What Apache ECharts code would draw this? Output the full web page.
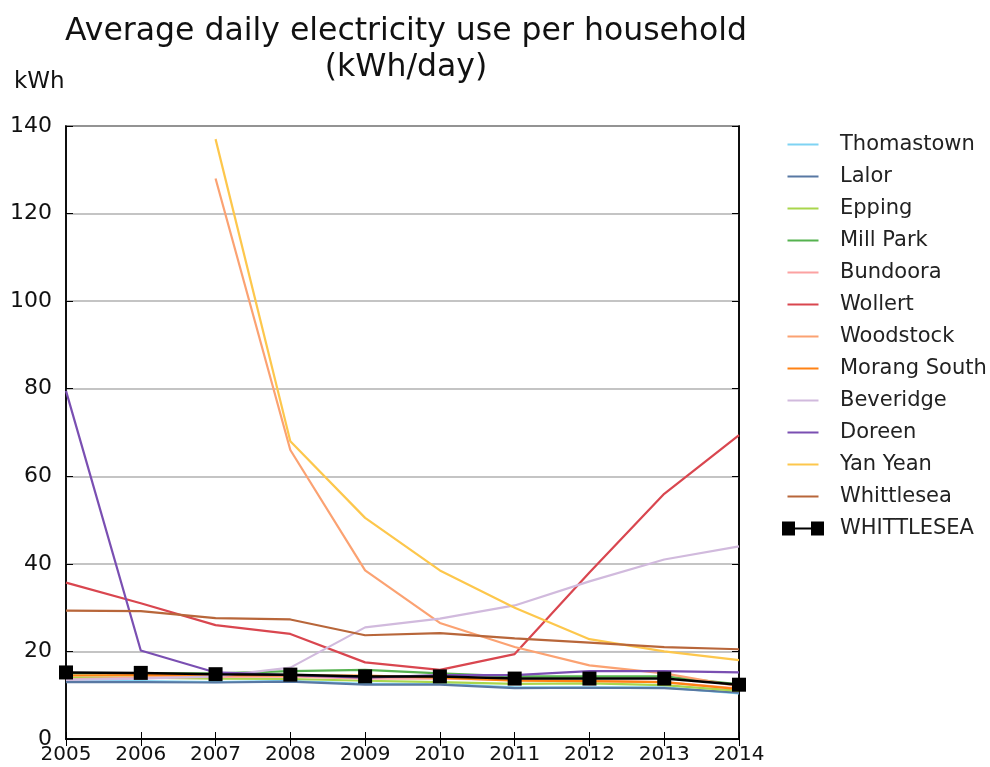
<!DOCTYPE html>
<html>
<head>
<meta charset="utf-8">
<script src="https://cdn.jsdelivr.net/npm/echarts@6/dist/echarts.min.js"></script>
<style>
  html, body { margin: 0; padding: 0; background: #fff; }
  #main { width: 990px; height: 767px; }
</style>
</head>
<body>
<div id="main"></div>
<script>
// years on x axis
var years = ['2005', '2006', '2007', '2008', '2009', '2010', '2011', '2012', '2013', '2014'];

// kWh/day per suburb
var thomastown  = [13.3, 13.2, 13.0, 13.3, 12.6, 12.6, 11.8, 11.8, 11.8, 10.4];
var lalor       = [13.0, 13.0, 12.9, 13.1, 12.4, 12.4, 11.6, 11.7, 11.6, 10.6];
var epping      = [14.0, 14.0, 13.8, 13.7, 13.3, 13.0, 12.6, 12.7, 12.3, 11.0];
var millPark    = [15.0, 15.0, 15.0, 15.5, 15.8, 15.0, 14.3, 14.3, 14.3, 12.5];
var bundoora    = [13.6, 14.0, 14.2, 14.3, 13.8, 13.8, 13.5, 13.3, 13.0, 11.5];
var wollert     = [35.7, 31.0, 26.0, 24.0, 17.5, 15.8, 19.4, 38.0, 56.0, 69.4];
var woodstock   = [null, null, 128.0, 66.0, 38.5, 26.5, 21.0, 16.8, 15.0, 12.0];
var morangSouth = [14.5, 14.6, 14.6, 14.5, 14.5, 14.0, 13.3, 13.2, 13.0, 11.4];
var beveridge   = [13.5, 13.8, 14.3, 16.3, 25.5, 27.5, 30.5, 36.0, 41.0, 44.0];
var doreen      = [79.5, 20.2, 15.2, 14.6, 14.0, 14.6, 14.6, 15.5, 15.5, 15.2];
var yanYean     = [null, null, 137.0, 68.0, 50.5, 38.5, 30.0, 22.8, 20.0, 18.0];
var whittlesea  = [29.3, 29.2, 27.6, 27.3, 23.7, 24.2, 23.0, 22.0, 21.0, 20.5];
var WHITTLESEA  = [15.2, 15.1, 14.8, 14.7, 14.3, 14.3, 13.8, 13.8, 13.8, 12.4];

var yTicks = [0, 20, 40, 60, 80, 100, 120, 140];

var seriesDefs = [
    ['Thomastown', thomastown, '#7fd3f3'],
    ['Lalor', lalor, '#5878a3'],
    ['Epping', epping, '#a9d64c'],
    ['Mill Park', millPark, '#55b24f'],
    ['Bundoora', bundoora, '#fca2a2'],
    ['Wollert', wollert, '#d9464f'],
    ['Woodstock', woodstock, '#fba272'],
    ['Morang South', morangSouth, '#ff8214'],
    ['Beveridge', beveridge, '#d1badd'],
    ['Doreen', doreen, '#7a4fb2'],
    ['Yan Yean', yanYean, '#fdc74c'],
    ['Whittlesea', whittlesea, '#b8663a']
];

var series = seriesDefs.map(function(d) {
    return {
        name: d[0],
        type: 'line',
        data: d[1],
        showSymbol: false,
        symbol: 'none',
        lineStyle: { color: d[2], width: 2.2 },
        itemStyle: { color: d[2] },
        animation: false
    };
});
series.push({
    name: 'WHITTLESEA',
    type: 'line',
    data: WHITTLESEA,
    symbol: 'rect',
    symbolSize: 14,
    lineStyle: { color: '#000', width: 2.5 },
    itemStyle: { color: '#000' },
    animation: false,
    z: 5
});

// legend icons: short line for suburbs, square-line-square for the total
var lineIcon = 'path://M0,0h0.05v0.05h-0.05z M42,14h-0.05v-0.05h0.05z M5.5,6h31v2h-31z';
var boxIcon = 'path://M0,0h13v14h-13z M29,0h13v14h-13z M13,6h16v2h-16z';
var legendData = seriesDefs.map(function(d) { return { name: d[0], icon: lineIcon }; });
legendData.push({ name: 'WHITTLESEA', icon: boxIcon });

var chart = echarts.init(document.getElementById('main'));
var font = 'DejaVu Sans';
chart.setOption({
    backgroundColor: '#fff',
    animation: false,
    textStyle: { fontFamily: font },
    title: [{
        text: 'Average daily electricity use per household\n(kWh/day)',
        left: 401,
        textAlign: 'center',
        top: 9,
        textStyle: { fontFamily: font, fontSize: 31.5, fontWeight: 'normal', color: '#111', lineHeight: 36 }
    }, {
        text: 'kWh',
        left: 9,
        top: 66,
        textStyle: { fontFamily: font, fontSize: 23, fontWeight: 'normal', color: '#111' }
    }],
    legend: {
        orient: 'vertical',
        left: 777,
        top: 129,
        itemWidth: 42,
        itemHeight: 14,
        itemGap: 11,
        data: legendData,
        textStyle: { fontFamily: font, fontSize: 21, color: '#222', lineHeight: 21, padding: [0, 0, 0, 11] }
    },
    grid: {
        left: 66, right: 251, top: 126, bottom: 28,
        show: true, borderColor: '#000', borderWidth: 1.5, backgroundColor: 'transparent'
    },
    xAxis: [{
        type: 'category',
        data: years,
        boundaryGap: false,
        axisLine: { show: true, lineStyle: { color: '#000', width: 1.5 } },
        axisTick: { show: true, inside: true, length: 7, lineStyle: { color: '#000' } },
        axisLabel: { fontFamily: font, fontSize: 20, color: '#111', margin: 6 },
        splitLine: { show: false }
    }, {
        type: 'category',
        data: years,
        position: 'top',
        boundaryGap: false,
        axisLine: { show: true, lineStyle: { color: '#000', width: 1.5 } },
        axisTick: { show: true, inside: true, length: 7, lineStyle: { color: '#000' } },
        axisLabel: { show: false },
        splitLine: { show: false }
    }],
    yAxis: [{
        type: 'value',
        min: yTicks[0],
        max: yTicks[yTicks.length - 1],
        interval: 20,
        axisLine: { show: true, lineStyle: { color: '#000', width: 1.5 } },
        axisTick: { show: true, inside: true, length: 7, lineStyle: { color: '#000' } },
        axisLabel: { fontFamily: font, fontSize: 22, color: '#111', margin: 14 },
        splitLine: { show: true, lineStyle: { color: '#b0b0b0', width: 1.5 } }
    }, {
        type: 'value',
        position: 'right',
        min: yTicks[0],
        max: yTicks[yTicks.length - 1],
        interval: 20,
        axisLine: { show: true, lineStyle: { color: '#000', width: 1.5 } },
        axisTick: { show: true, inside: true, length: 7, lineStyle: { color: '#000' } },
        axisLabel: { show: false },
        splitLine: { show: false }
    }],
    series: series
});
</script>
</body>
</html>
